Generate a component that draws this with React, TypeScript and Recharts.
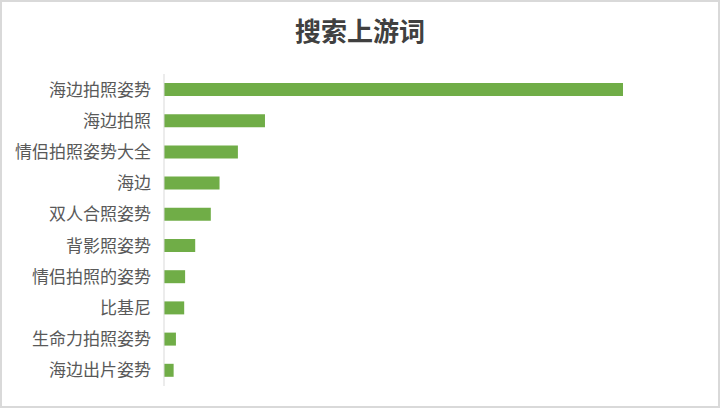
import React from "react";
import { BarChart, Bar, XAxis, YAxis } from "recharts";

// search terms, top to bottom
const terms = [
  "海边拍照姿势",
  "海边拍照",
  "情侣拍照姿势大全",
  "海边",
  "双人合照姿势",
  "背影照姿势",
  "情侣拍照的姿势",
  "比基尼",
  "生命力拍照姿势",
  "海边出片姿势",
];

// relative search volume (largest = 100)
const volume = [100, 22, 16.1, 12.1, 10.2, 6.8, 4.6, 4.4, 2.6, 2.1];

const data = terms.map((name, i) => ({ name, value: volume[i] }));

const FONT = '"Noto Sans CJK SC", "Noto Sans", sans-serif';

export default function App() {
  return (
    <div style={{ position: "relative", width: 720, height: 408, background: "#fff" }}>
      <style>{`body{margin:0}`}</style>
      <div
        style={{
          position: "absolute",
          top: 12,
          left: 0,
          width: 720,
          textAlign: "center",
          fontFamily: FONT,
          fontWeight: 700,
          fontSize: 26,
          lineHeight: "36px",
          color: "#404040",
        }}
      >
        搜索上游词
      </div>
      <BarChart
        width={720}
        height={408}
        data={data}
        layout="vertical"
        margin={{ top: 74, right: 97, bottom: 22, left: 0 }}
      >
        <XAxis type="number" domain={[0, 100]} hide />
        <YAxis
          type="category"
          dataKey="name"
          width={164}
          axisLine={{ stroke: "#d9d9d9" }}
          tickLine={false}
          tickMargin={7}
          interval={0}
          tick={{ fontSize: 17, fill: "#595959", fontFamily: FONT }}
        />
        <Bar dataKey="value" fill="#70ad47" barSize={13} isAnimationActive={false} />
      </BarChart>
      <div
        style={{
          position: "absolute",
          inset: 0,
          border: "2px solid #d9d9d9",
          pointerEvents: "none",
        }}
      />
    </div>
  );
}
